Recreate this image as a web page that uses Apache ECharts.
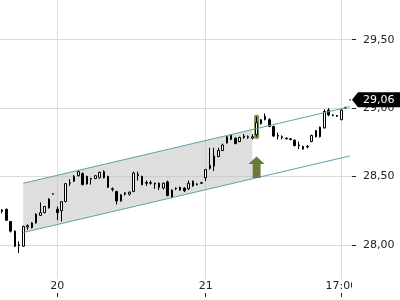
<!DOCTYPE html>
<html><head><meta charset="utf-8">
<script src="https://cdn.jsdelivr.net/npm/echarts@6/dist/echarts.min.js"></script>
<style>html,body{margin:0;padding:0;background:#fff}#c{width:400px;height:300px}</style>
</head><body><div id="c"></div>
<script>
// OHLC values (one entry per candle)
const opens  = [28.245,28.26,28.17,28.10,28.00,27.99,28.13,28.125,28.16,28.215,28.235,28.27,28.37,28.26,28.25,28.317,28.45,28.465,28.505,28.52,28.50,28.48,28.485,28.49,28.535,28.50,28.41,28.39,28.32,28.37,28.37,28.39,28.505,28.50,28.455,28.45,28.45,28.45,28.415,28.46,28.345,28.41,28.42,28.415,28.41,28.43,28.44,28.45,28.49,28.58,28.575,28.645,28.69,28.745,28.77,28.78,28.755,28.785,28.79,28.78,28.805,28.885,28.915,28.915,28.865,28.80,28.79,28.78,28.775,28.765,28.73,28.70,28.715,28.755,28.835,28.79,28.855,28.985,28.95,28.945,28.915,29.00,29.06];
const closes = [28.255,28.18,28.10,27.99,27.995,28.135,28.14,28.16,28.225,28.235,28.28,28.335,28.373,28.235,28.315,28.447,28.455,28.50,28.535,28.44,28.445,28.485,28.505,28.53,28.49,28.42,28.405,28.32,28.365,28.38,28.385,28.525,28.515,28.44,28.45,28.455,28.445,28.42,28.45,28.36,28.40,28.415,28.40,28.395,28.45,28.465,28.445,28.455,28.55,28.56,28.65,28.69,28.73,28.79,28.80,28.74,28.785,28.795,28.785,28.79,28.893,28.915,28.94,28.865,28.795,28.795,28.785,28.775,28.77,28.725,28.725,28.72,28.72,28.80,28.79,28.86,28.975,28.95,28.945,28.94,28.985,29.005,29.06];
const lows   = [28.23,28.175,28.09,27.985,27.94,27.985,28.11,28.12,28.155,28.21,28.23,28.265,28.368,28.18,28.17,28.31,28.43,28.46,28.50,28.435,28.44,28.44,28.48,28.485,28.485,28.415,28.39,28.295,28.315,28.36,28.36,28.385,28.47,28.435,28.43,28.44,28.41,28.40,28.405,28.355,28.34,28.40,28.395,28.385,28.40,28.425,28.435,28.445,28.465,28.55,28.54,28.64,28.685,28.74,28.765,28.735,28.75,28.775,28.775,28.77,28.79,28.88,28.91,28.86,28.79,28.77,28.77,28.77,28.765,28.72,28.70,28.695,28.705,28.75,28.785,28.785,28.85,28.94,28.94,28.935,28.91,28.995,29.06];
const highs  = [28.26,28.265,28.175,28.105,28.025,28.14,28.15,28.165,28.23,28.31,28.285,28.34,28.375,28.28,28.32,28.45,28.48,28.51,28.545,28.53,28.505,28.49,28.51,28.535,28.545,28.505,28.42,28.395,28.37,28.385,28.39,28.535,28.535,28.505,28.47,28.47,28.455,28.455,28.455,28.47,28.405,28.42,28.425,28.42,28.47,28.47,28.45,28.46,28.555,28.71,28.71,28.71,28.74,28.80,28.81,28.785,28.79,28.81,28.80,28.81,28.937,28.92,28.96,28.925,28.87,28.82,28.80,28.785,28.78,28.77,28.755,28.725,28.73,28.805,28.84,28.865,28.99,29.00,28.955,28.95,28.99,29.01,29.06];

// x tick labels (candle index -> label)
const tickIndex  = [13, 48, 80];
const tickLabels = ['20', '21', '17:00'];
// y tick values
const yTicks = [28, 28.5, 29, 29.5];

// trend channel (candle index, price)
const channelIdx   = [5, 82];
const channelUpper = [28.45, 29.01];
const channelLower = [28.09, 28.65];
const shadeEndIdx  = 59;

// signal marks
const signalIdx   = 60;
const signalBox   = [28.774, 28.951];
const arrowRange  = [28.488, 28.646];
const lastPrice   = 29.06;

const categories = opens.map((_, i) => String(i));
const labelOf = {};
tickIndex.forEach((k, j) => { labelOf[k] = tickLabels[j]; });
const isTick = (i) => labelOf[i] !== undefined;
const candleData = opens.map((o, i) => [o, closes[i], lows[i], highs[i]]);
const fmt = v => Number(v).toFixed(2).replace('.', ',');
const FONT = '"DejaVu Sans", sans-serif';
const TXT = '#222';
const GRID = '#dcdcdc';

const chart = echarts.init(document.getElementById('c'), null, {renderer: 'canvas'});
chart.setOption({
  animation: false,
  backgroundColor: '#fff',
  grid: {left: 0, right: 48, top: 0, bottom: 21},
  xAxis: [{
    type: 'category', data: categories, boundaryGap: true,
    axisLine: {show: false}, axisTick: {show: false},
    axisLabel: {interval: (i) => isTick(i), formatter: (v, i) => labelOf[i] || '', margin: 2,
      color: TXT, fontSize: 11, fontFamily: FONT},
    splitLine: {show: true, interval: (i) => isTick(i), alignWithLabel: true, lineStyle: {color: GRID, width: 1}}
  }, {
    type: 'category', data: categories, boundaryGap: true, position: 'bottom', offset: 14,
    axisLine: {show: false}, axisLabel: {show: false}, splitLine: {show: false},
    axisTick: {show: true, interval: (i) => isTick(i), alignWithLabel: true, length: 4, lineStyle: {color: TXT}}
  }],
  yAxis: {
    type: 'value', position: 'right', min: 27.75, max: 29.79,
    axisLine: {show: false},
    axisTick: {show: true, length: 4, customValues: yTicks, lineStyle: {color: TXT}},
    axisLabel: {customValues: yTicks, formatter: fmt, margin: 11,
      color: TXT, fontSize: 11, fontFamily: FONT},
    splitLine: {show: true, lineStyle: {color: GRID, width: 1}}
  },
  graphic: [{type: 'rect', right: 0, bottom: 0, shape: {width: 48, height: 19}, style: {fill: '#fff'}, z: 100}],
  series: [{
    type: 'custom', z: 1, silent: true,
    data: [[channelIdx[0], channelUpper[0]]],
    renderItem: (params, api) => {
      const u0 = api.coord([channelIdx[0], channelUpper[0]]);
      const u1 = api.coord([channelIdx[1], channelUpper[1]]);
      const l0 = api.coord([channelIdx[0], channelLower[0]]);
      const l1 = api.coord([channelIdx[1], channelLower[1]]);
      const xe = api.coord([shadeEndIdx, channelUpper[0]])[0];
      const t = (xe - u0[0]) / (u1[0] - u0[0]);
      const lerp = (a, b) => [a[0] + (b[0] - a[0]) * t, a[1] + (b[1] - a[1]) * t];
      return {type: 'polygon', shape: {points: [u0, lerp(u0, u1), lerp(l0, l1), l0]},
        style: {fill: 'rgba(190,190,190,0.5)'}};
    }
  }, {
    type: 'custom', z: 1, silent: true,
    data: [[signalIdx, signalBox[1]]],
    renderItem: (params, api) => {
      const top = api.coord([signalIdx, signalBox[1]]);
      const bot = api.coord([signalIdx, signalBox[0]]);
      return {type: 'rect', shape: {x: top[0] - 2.5, y: top[1], width: 5, height: bot[1] - top[1], r: 2},
        style: {fill: '#7f8e4d'}};
    }
  }, {
    type: 'candlestick', z: 2, barWidth: 2, data: candleData,
    itemStyle: {color: '#fff', color0: '#000', borderColor: '#000', borderColor0: '#000', borderColorDoji: '#000', borderWidth: 1}
  }, {
    type: 'custom', z: 3, silent: true,
    data: [[channelIdx[0], channelUpper[0]]],
    renderItem: (params, api) => {
      const u0 = api.coord([channelIdx[0], channelUpper[0]]);
      const u1 = api.coord([channelIdx[1], channelUpper[1]]);
      const l0 = api.coord([channelIdx[0], channelLower[0]]);
      const l1 = api.coord([channelIdx[1], channelLower[1]]);
      const st = {stroke: '#5ea3aa', lineWidth: 1, fill: null};
      return {type: 'group', children: [
        {type: 'line', shape: {x1: u0[0], y1: u0[1], x2: u1[0], y2: u1[1]}, style: st},
        {type: 'line', shape: {x1: l0[0], y1: l0[1], x2: l1[0], y2: l1[1]}, style: st}
      ]};
    }
  }, {
    type: 'custom', z: 3, silent: true,
    data: [[signalIdx, arrowRange[1]]],
    renderItem: (params, api) => {
      const tip = api.coord([signalIdx, arrowRange[1]]);
      const base = api.coord([signalIdx, arrowRange[0]]);
      const cx = tip[0], ty = tip[1], hw = 8, sw = 4, hh = 7.6;
      return {type: 'polygon', shape: {points: [[cx, ty], [cx + hw, ty + hh], [cx + sw, ty + hh], [cx + sw, base[1]],
        [cx - sw, base[1]], [cx - sw, ty + hh], [cx - hw, ty + hh]]}, style: {fill: '#6b7b3b'}};
    }
  }, {
    type: 'custom', z: 5, silent: true, clip: false,
    data: [[categories.length - 1, lastPrice]],
    renderItem: (params, api) => {
      const p = api.coord([categories.length - 1, lastPrice]);
      const xr = p[0] + api.size([1, 0])[0] / 2;
      const y = p[1];
      return {type: 'group', children: [
        {type: 'polygon', shape: {points: [[xr, y], [xr + 6, y - 7.5], [xr + 50, y - 7.5], [xr + 50, y + 7.5], [xr + 6, y + 7.5]]},
          style: {fill: '#000'}},
        {type: 'text', style: {text: fmt(lastPrice), x: xr + 11, y: y + 0.5, fill: '#fff',
          font: '11px "DejaVu Sans"', align: 'left', verticalAlign: 'middle'}}
      ]};
    }
  }]
});
</script></body></html>
